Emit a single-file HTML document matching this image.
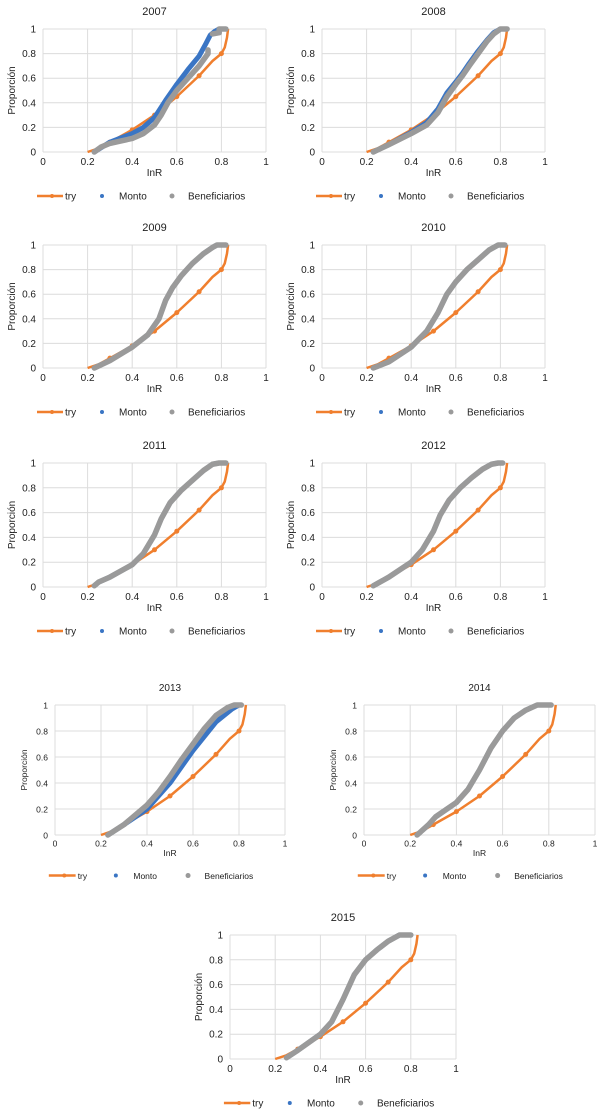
<!DOCTYPE html>
<html><head><meta charset="utf-8"><style>
body{margin:0;background:#fff;width:613px;height:1115px;overflow:hidden}
svg{display:block;font-family:"Liberation Sans",sans-serif}
</style></head><body>
<svg id="c" width="613" height="1115"></svg>
<script>
const tryX=[0.2,0.25,0.3,0.4,0.5,0.6,0.7,0.76,0.8,0.815,0.825,0.83];
const tryY=[0,0.03,0.08,0.18,0.3,0.45,0.62,0.74,0.8,0.85,0.93,1];
const tryMarkX=[0.3,0.4,0.5,0.6,0.7,0.8];
const tryMarkY=[0.08,0.18,0.3,0.45,0.62,0.8];
const ticks=[0,0.2,0.4,0.6,0.8,1];
const tickLabels=["0","0.2","0.4","0.6","0.8","1"];
const years=["2007","2008","2009","2010","2011","2012","2013","2014","2015"];
const monto2007=[[0.23,0],[0.3,0.08],[0.4,0.15],[0.45,0.2],[0.5,0.28],[0.55,0.42],[0.6,0.55],[0.65,0.67],[0.7,0.78],[0.73,0.88],[0.75,0.95],[0.77,0.98],[0.79,1],[0.82,1]];
const benef2007=[[0.23,0],[0.26,0.04],[0.3,0.07],[0.35,0.09],[0.4,0.11],[0.45,0.15],[0.5,0.22],[0.53,0.3],[0.56,0.4],[0.6,0.5],[0.65,0.6],[0.7,0.7],[0.74,0.8],[0.74,0.83]];
const benef2007b=[[0.76,0.96],[0.79,0.97],[0.79,1],[0.82,1]];
const monto2008=[[0.23,0],[0.3,0.06],[0.4,0.16],[0.47,0.24],[0.52,0.35],[0.56,0.48],[0.6,0.57],[0.63,0.64],[0.66,0.72],[0.7,0.82],[0.74,0.91],[0.77,0.97],[0.8,1],[0.83,1]];
const benef2008=[[0.23,0],[0.3,0.06],[0.4,0.15],[0.47,0.22],[0.52,0.32],[0.56,0.45],[0.6,0.55],[0.63,0.62],[0.66,0.7],[0.7,0.8],[0.74,0.9],[0.77,0.96],[0.8,1],[0.83,1]];
const benef2009=[[0.23,0],[0.3,0.06],[0.4,0.17],[0.47,0.27],[0.52,0.4],[0.55,0.55],[0.58,0.65],[0.62,0.75],[0.67,0.85],[0.72,0.93],[0.76,0.98],[0.78,1],[0.82,1]];
const benef2010=[[0.23,0],[0.3,0.05],[0.4,0.17],[0.47,0.3],[0.52,0.45],[0.56,0.6],[0.6,0.7],[0.65,0.8],[0.7,0.88],[0.75,0.96],[0.79,1],[0.82,1]];
const benef2011=[[0.23,0.01],[0.25,0.04],[0.3,0.08],[0.4,0.18],[0.45,0.27],[0.5,0.42],[0.53,0.55],[0.57,0.68],[0.62,0.78],[0.67,0.86],[0.72,0.94],[0.76,0.99],[0.79,1],[0.82,1]];
const benef2012=[[0.23,0.01],[0.3,0.08],[0.4,0.2],[0.45,0.3],[0.5,0.45],[0.53,0.58],[0.57,0.7],[0.62,0.8],[0.67,0.88],[0.72,0.95],[0.76,0.99],[0.79,1],[0.81,1]];
const monto2013=[[0.23,0],[0.3,0.08],[0.4,0.2],[0.5,0.4],[0.6,0.65],[0.7,0.87],[0.77,0.97],[0.8,1]];
const benef2013=[[0.23,0],[0.3,0.08],[0.4,0.23],[0.45,0.33],[0.5,0.45],[0.55,0.58],[0.6,0.7],[0.65,0.82],[0.7,0.92],[0.75,0.98],[0.78,1],[0.81,1]];
const benef2014=[[0.23,0],[0.28,0.08],[0.31,0.14],[0.4,0.25],[0.45,0.35],[0.5,0.5],[0.55,0.67],[0.6,0.8],[0.65,0.9],[0.7,0.96],[0.75,1],[0.81,1]];
const benef2015=[[0.25,0.01],[0.3,0.07],[0.4,0.2],[0.45,0.3],[0.5,0.48],[0.55,0.68],[0.6,0.8],[0.65,0.88],[0.7,0.95],[0.75,1],[0.8,1]];
const montoByYear=[monto2007,monto2008,benef2009,benef2010,benef2011,benef2012,monto2013,benef2014,benef2015];
const benefByYear=[[benef2007,benef2007b],[benef2008],[benef2009],[benef2010],[benef2011],[benef2012],[benef2013],[benef2014],[benef2015]];
const layouts=[[43,266,29,152,10],[322,545,29,152,10],[43,266,245,368,10],[322,545,245,368,10],[43,266,463,587,10],[322,545,463,587,10],[55,285,705,835,8.5],[364,595,705,835,8.5],[230,456,935,1059,10]];
const svg=document.getElementById('c');
const NS='http://www.w3.org/2000/svg';
function mk(tag,attrs,parent,txt){const e=document.createElementNS(NS,tag);for(const k in attrs)e.setAttribute(k,attrs[k]);if(txt!==undefined)e.textContent=txt;parent.appendChild(e);return e;}
years.forEach((yr,i)=>{
  const [L,R,T,B,fs]=layouts[i];
  const sx=v=>L+v*(R-L), sy=v=>B-v*(B-T);
  const g=mk('g',{},svg);
  
  
  const t=mk('text',{x:(L+R)/2,y:T-14,'text-anchor':'middle','font-size':fs<10?10:11,fill:'#222'},g,yr);
  
  
  ticks.forEach((v,j)=>{
    mk('line',{x1:L,x2:R,y1:sy(v),y2:sy(v),stroke:'#dcdcdc','stroke-width':1},g);
    mk('line',{x1:sx(v),x2:sx(v),y1:T,y2:B,stroke:'#dcdcdc','stroke-width':1},g);
    const yl=mk('text',{x:L-7,y:sy(v)+3.5,'text-anchor':'end','font-size':fs,fill:'#222'},g,tickLabels[j]);
    
    
    const xl=mk('text',{x:sx(v),y:B+fs+3,'text-anchor':'middle','font-size':fs,fill:'#222'},g,tickLabels[j]);
    
    
  });
  const xt=mk('text',{x:(L+R)/2,y:B+2*fs+4,'text-anchor':'middle','font-size':fs,fill:'#222'},g,'InR');
  
  
  const yt=mk('text',{x:0,y:0,'text-anchor':'middle','font-size':fs,fill:'#222',transform:`translate(${L-28},${(T+B)/2}) rotate(-90)`},g,'Proporción');
  
  
  const tp=mk('polyline',{points:tryX.map((x,k)=>sx(x)+','+sy(tryY[k])).join(' '),fill:'none',stroke:'#f07f2e','stroke-width':2.5,'stroke-linejoin':'round'},g);
  
  
  tryMarkX.forEach((x,k)=>{const c=mk('circle',{cx:sx(x),cy:sy(tryMarkY[k]),r:2.5,fill:'#f07f2e'},g);
    
    });
  const m=montoByYear[i];
  const mp=mk('polyline',{points:m.map(p=>sx(p[0])+','+sy(p[1])).join(' '),fill:'none',stroke:'#3a75c4','stroke-width':5,'stroke-linecap':'round','stroke-linejoin':'round'},g);
  
  
  benefByYear[i].forEach(seg=>{
    const bp=mk('polyline',{points:seg.map(p=>sx(p[0])+','+sy(p[1])).join(' '),fill:'none',stroke:'#9a9a9a','stroke-width':5.5,'stroke-linecap':'round','stroke-linejoin':'round'},g);
    
    
  });
  const k=(R-L)/223;
  const ly=B+43*(fs/10)+(fs<10?4:1);
  const lx=L+(R-L)/2-112.5*k;
  const lg=mk('g',{},g);
  
  
  mk('line',{x1:lx-5*k,x2:lx+21*k,y1:ly,y2:ly,stroke:'#f07f2e','stroke-width':2.5},lg);
  mk('circle',{cx:lx+10*k,cy:ly,r:2,fill:'#f07f2e'},lg);
  mk('text',{x:lx+23*k,y:ly+3.5,'font-size':fs,fill:'#222'},lg,'try');
  mk('circle',{cx:lx+60*k,cy:ly,r:2,fill:'#3a75c4'},lg);
  mk('text',{x:lx+77*k,y:ly+3.5,'font-size':fs,fill:'#222'},lg,'Monto');
  mk('circle',{cx:lx+130*k,cy:ly,r:2.5,fill:'#9a9a9a'},lg);
  mk('text',{x:lx+146*k,y:ly+3.5,'font-size':fs,fill:'#222'},lg,'Beneficiarios');
});
</script>
</body></html>
